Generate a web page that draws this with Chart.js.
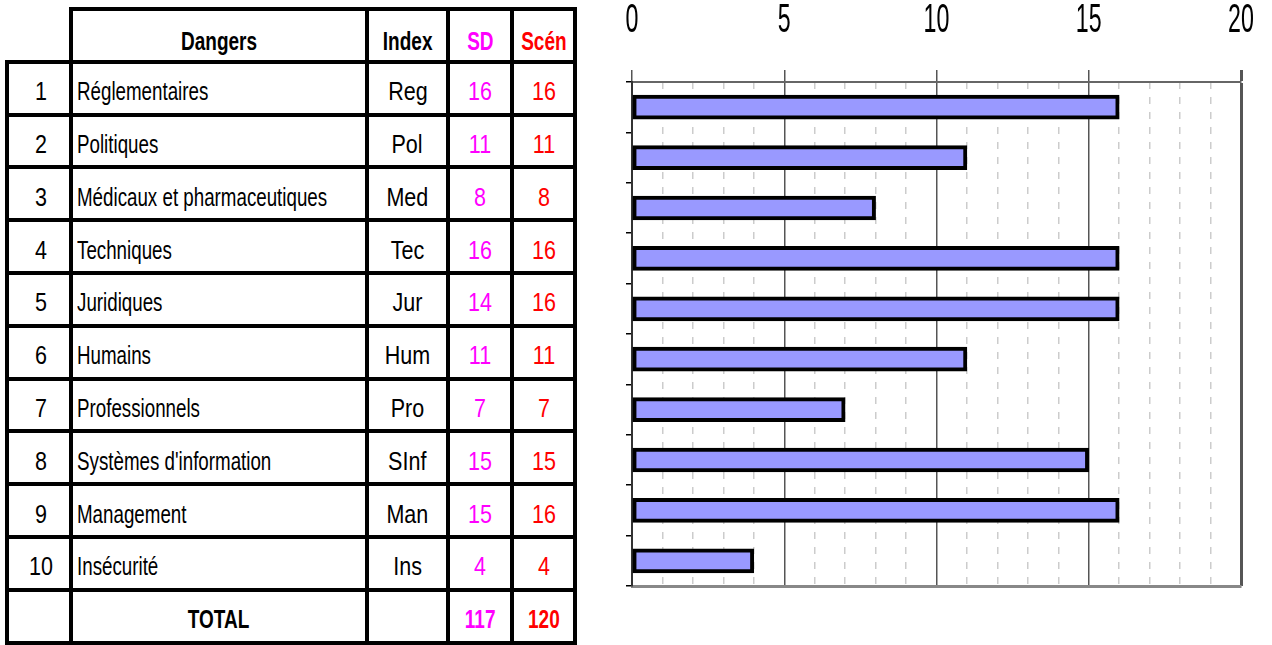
<!DOCTYPE html>
<html><head><meta charset="utf-8">
<script src="https://cdn.jsdelivr.net/npm/chart.js@4.4.0/dist/chart.umd.min.js"></script>
<style>
html,body{margin:0;padding:0;background:#fff;width:1272px;height:645px;overflow:hidden;}
#tbl{position:absolute;left:5px;top:7px;padding:4px;background:#000;display:grid;
  grid-template-columns:60px 292px 77px 60px 59px;grid-template-rows:repeat(12,48.8px);gap:4px;
  font-family:"Liberation Sans Narrow","Arial Narrow","Liberation Sans",sans-serif;font-size:25px;color:#000;}
.c{background:#fff;display:flex;align-items:center;justify-content:center;padding-top:7px;box-sizing:border-box;white-space:nowrap;overflow:visible;}
.c span{display:inline-block;transform:scaleX(0.86);transform-origin:center center;}
.c.b span{transform:scaleX(0.76);}
.h{padding-top:12px;}
.n{padding-left:4px;}
.l{justify-content:flex-start;padding-left:4px;}
.l span{transform:scaleX(0.75);transform-origin:left center;}
.b{font-weight:bold;}
.sd{color:#ff00ff}.sc{color:#ff0000}
#patch{position:absolute;left:0;top:0;width:69px;height:59.8px;background:#fff}
#wrap{position:absolute;left:600px;top:0;width:672px;height:645px}
</style></head>
<body>
<div id="tbl"></div>
<div id="patch"></div>
<div id="wrap"><canvas id="cv" width="672" height="645"></canvas></div>
<script>
const categories = ['Réglementaires','Politiques','Médicaux et pharmaceutiques','Techniques','Juridiques','Humains','Professionnels',"Systèmes d'information",'Management','Insécurité'];
const indexes = ['Reg','Pol','Med','Tec','Jur','Hum','Pro','SInf','Man','Ins'];
const sdValues = [16,11,8,16,14,11,7,15,15,4];
const scenValues = [16,11,8,16,16,11,7,15,16,4];
const xTickLabels = [0,5,10,15,20];
const headers = ['', 'Dangers', 'Index', 'SD', 'Scén'];
const totalLabel = 'TOTAL';

// table
const tbl = document.getElementById('tbl');
function cell(text, cls){
  const d = document.createElement('div');
  d.className = 'c ' + (cls||'');
  const s = document.createElement('span');
  s.textContent = text;
  d.appendChild(s);
  tbl.appendChild(d);
}
cell(headers[0],'h'); cell(headers[1],'b h'); cell(headers[2],'b h'); cell(headers[3],'b h sd'); cell(headers[4],'b h sc');
categories.forEach((c,i)=>{
  cell(String(i+1),'n'); cell(c,'l'); cell(indexes[i]); cell(String(sdValues[i]),'sd'); cell(String(scenValues[i]),'sc');
});
const sum = a => a.reduce((p,v)=>p+v,0);
cell('','n'); cell(totalLabel,'b'); cell(''); cell(String(sum(sdValues)),'b sd'); cell(String(sum(scenValues)),'b sc');

// condensed tick labels drawn at the x scale's own tick positions
const condensedTicks = {
  id:'condensedTicks',
  afterDraw(chart){
    const s = chart.scales.x, ctx = chart.ctx;
    ctx.save();
    ctx.fillStyle = '#000';
    ctx.font = '40px "Liberation Sans", Arial, sans-serif';
    ctx.textAlign = 'center';
    ctx.textBaseline = 'alphabetic';
    s.ticks.forEach(t => {
      if (!xTickLabels.includes(t.value)) return;
      const px = s.getPixelForValue(t.value);
      ctx.save();
      ctx.translate(px, 32);
      ctx.scale(0.58, 1);
      ctx.fillText(String(t.value), 0, 0);
      ctx.restore();
    });
    ctx.restore();
  }
};

new Chart(document.getElementById('cv'), {
  type:'bar',
  data:{labels: indexes, datasets:[{data: scenValues, backgroundColor:'#9999ff', borderColor:'#000', borderWidth:4, barThickness:24, borderSkipped:false}]},
  options:{
    indexAxis:'y', responsive:false, animation:false,
    layout:{padding:{left:0,top:0,right:31,bottom:59}},
    plugins:{legend:{display:false}, tooltip:{enabled:false}},
    scales:{
      x:{type:'linear', position:'top', min:0, max:20,
        ticks:{stepSize:5, display:false},
        grid:{color:'#555', lineWidth:c=>(c.tick && c.tick.value===20)?3:1.5, tickLength:12},
        border:{display:true, color:'#666', width:2},
        afterFit(s){ s.height = 82; s.paddingLeft = 0; s.paddingRight = 0; }},
      x2:{type:'linear', position:'bottom', min:0, max:20,
        ticks:{stepSize:1, display:false},
        grid:{color:c=>(c.tick && c.tick.value%5===0)?'rgba(0,0,0,0)':'#cccccc', lineWidth:1.5, drawTicks:false},
        border:{display:true, color:'#888', width:3, dash:[7,8]},
        afterFit(s){ s.height = 0; s.paddingLeft = 0; s.paddingRight = 0; }},
      y:{position:'left', ticks:{display:false},
        grid:{drawOnChartArea:false, tickLength:6, color:'#000', lineWidth:1.5, offset:true},
        border:{display:true, color:'#333', width:2},
        afterFit(s){ s.width = 32; }}
    }
  },
  plugins:[condensedTicks]
});
</script>
</body></html>
